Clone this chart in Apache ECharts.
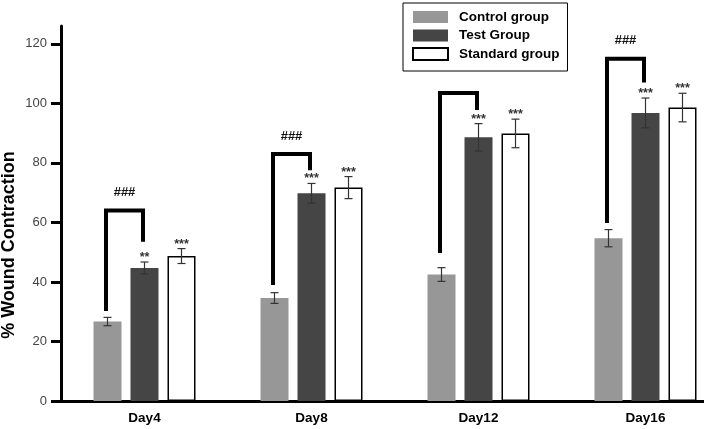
<!DOCTYPE html>
<html><head><meta charset="utf-8">
<script src="https://cdn.jsdelivr.net/npm/echarts@6/dist/echarts.min.js"></script>
<style>html,body{margin:0;padding:0;background:#fff}#c{width:704px;height:429px}</style>
</head><body><div id="c"></div>
<script>
const categories = ['Day4', 'Day8', 'Day12', 'Day16'];
const seriesNames = ['Control group', 'Test Group', 'Standard group'];
const controlMean = [26.7, 34.6, 42.5, 54.7];
const controlErr = [1.4, 1.8, 2.3, 2.9];
const testMean = [44.7, 69.8, 88.6, 96.8];
const testErr = [2.0, 3.3, 4.6, 5.0];
const standardMean = [48.7, 71.7, 89.9, 98.6];
const standardErr = [2.5, 3.7, 4.8, 4.8];
const testStars = ['**', '***', '***', '***'];
const standardStars = ['***', '***', '***', '***'];
const bracketTop = [64, 83, 103.5, 115];
const bracketLeftEnd = [30.2, 39, 49.7, 59.8];
const bracketRightEnd = [53.5, 77.5, 97.8, 107];
const bracketLabels = ['###', '###', '', '###'];
const yTicks = [0, 20, 40, 60, 80, 100, 120];

const BAR_W = 28, GAP = 9, STEP = BAR_W + GAP;
const FONT = 'Arial, "Liberation Sans", sans-serif';

function errSeries(mean, err, offset, stars) {
  return {
    type: 'custom', z: 5, silent: true,
    data: categories.map((c, i) => [i, mean[i], err[i]]),
    renderItem: function (params, api) {
      const i = api.value(0);
      const x = api.coord([i, 0])[0] + offset;
      const hi = api.coord([i, api.value(1) + api.value(2)])[1];
      const lo = api.coord([i, api.value(1) - api.value(2)])[1];
      const c = 4;
      const st = { stroke: '#333', lineWidth: 1.2 };
      const children = [
        { type: 'line', shape: { x1: x, y1: hi, x2: x, y2: lo }, style: st },
        { type: 'line', shape: { x1: x - c, y1: hi, x2: x + c, y2: hi }, style: st },
        { type: 'line', shape: { x1: x - c, y1: lo, x2: x + c, y2: lo }, style: st }
      ];
      if (stars && stars[params.dataIndex]) {
        children.push({ type: 'text', style: { text: stars[params.dataIndex], x: x, y: hi + 2, align: 'center', verticalAlign: 'bottom', font: 'bold 12.5px ' + FONT, fill: '#333' } });
      }
      return { type: 'group', children: children };
    }
  };
}

const chart = echarts.init(document.getElementById('c'), null, { renderer: 'canvas' });
chart.setOption({
  animation: false,
  backgroundColor: '#fff',
  grid: { left: 61, right: -25, top: 26, bottom: 28, outerBoundsMode: 'none', containLabel: false },
  legend: {
    data: seriesNames, orient: 'vertical', left: 403, top: 3,
    itemWidth: 35, itemHeight: 12, itemGap: 4.5,
    padding: [7, 8, 10, 9],
    borderColor: '#000', borderWidth: 1, icon: 'rect',
    textStyle: { fontFamily: FONT, fontWeight: 'bold', fontSize: 13.5, color: '#000', lineHeight: 12, padding: [0, 0, 0, 6] }
  },
  xAxis: {
    type: 'category', data: categories,
    axisLine: { lineStyle: { color: '#000', width: 3 } },
    axisTick: { show: false },
    axisLabel: { fontFamily: FONT, fontWeight: 'bold', fontSize: 13.5, color: '#000', margin: 10 }
  },
  yAxis: {
    type: 'value', min: 0, max: 126, interval: 20,
    axisLine: { show: true, lineStyle: { color: '#000', width: 3 } },
    axisTick: { show: true, length: 10, lineStyle: { color: '#000', width: 3 }, customValues: yTicks },
    axisLabel: { fontFamily: FONT, fontSize: 13, color: '#444', margin: 14, customValues: yTicks },
    splitLine: { show: false }
  },
  graphic: [{
    type: 'text', x: 9, y: 245, rotation: Math.PI / 2,
    style: { text: '% Wound Contraction', font: 'bold 18px ' + FONT, fill: '#000', align: 'center', verticalAlign: 'middle' }
  }],
  series: [
    { name: seriesNames[0], type: 'bar', data: controlMean, barWidth: BAR_W, barGap: (GAP / BAR_W * 100) + '%', itemStyle: { color: '#979797' } },
    { name: seriesNames[1], type: 'bar', data: testMean, barWidth: BAR_W, itemStyle: { color: '#454545' } },
    { name: seriesNames[2], type: 'bar', data: standardMean, barWidth: BAR_W, itemStyle: { color: '#fff', borderColor: '#000', borderWidth: 1.5 } },
    errSeries(controlMean, controlErr, -STEP, null),
    errSeries(testMean, testErr, 0, testStars),
    errSeries(standardMean, standardErr, STEP, standardStars),
    {
      type: 'custom', z: 6, silent: true,
      data: categories.map((c, i) => [i, bracketTop[i], bracketLeftEnd[i], bracketRightEnd[i]]),
      renderItem: function (params, api) {
        const i = api.value(0);
        const cx = api.coord([i, 0])[0];
        const xL = cx - STEP - 1.5, xR = cx - 1.5;
        const yT = api.coord([i, api.value(1)])[1];
        const yL = api.coord([i, api.value(2)])[1];
        const yR = api.coord([i, api.value(3)])[1];
        const children = [{
          type: 'polyline', shape: { points: [[xL, yL], [xL, yT], [xR, yT], [xR, yR]] },
          style: { stroke: '#000', lineWidth: 4, fill: null, lineJoin: 'miter' }
        }];
        const lab = bracketLabels[params.dataIndex];
        if (lab) children.push({ type: 'text', style: { text: lab, x: (xL + xR) / 2, y: yT - 18, align: 'center', verticalAlign: 'middle', font: 'bold 13px ' + FONT, fill: '#111' } });
        return { type: 'group', children: children };
      }
    }
  ]
});
</script></body></html>
